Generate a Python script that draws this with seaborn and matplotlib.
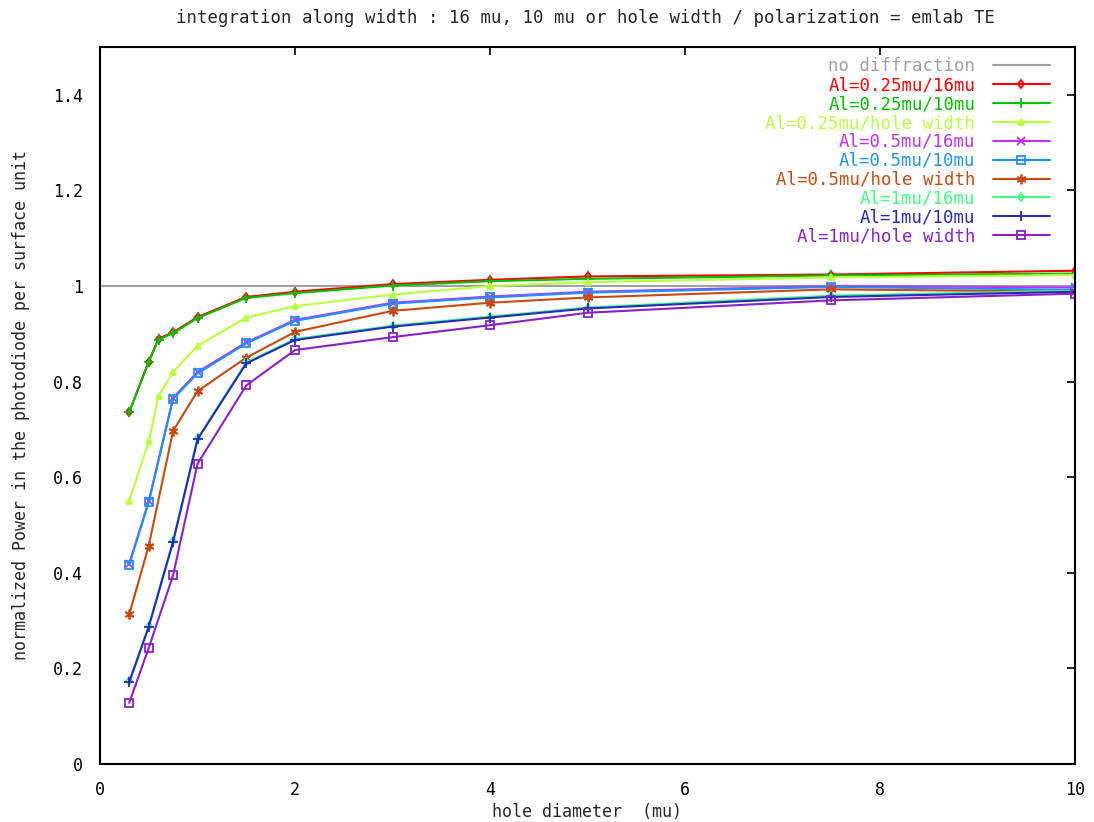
import matplotlib
matplotlib.use("Agg")
import matplotlib.pyplot as plt
import seaborn as sns
import pandas as pd

# ---------------- data ----------------
x_full = [0.3, 0.5, 0.6, 0.75, 1.0, 1.5, 2.0, 3.0, 4.0, 5.0, 7.5, 10.0]
x_std = [0.3, 0.5, 0.75, 1.0, 1.5, 2.0, 3.0, 4.0, 5.0, 7.5, 10.0]

al025_16 = [0.736, 0.842, 0.890, 0.903, 0.935, 0.977, 0.988, 1.004, 1.013, 1.020, 1.024, 1.032]
al025_10 = [0.736, 0.842, 0.888, 0.901, 0.933, 0.975, 0.985, 1.001, 1.010, 1.015, 1.022, 1.026]
al025_hole = [0.550, 0.675, 0.770, 0.820, 0.875, 0.934, 0.958, 0.982, 1.000, 1.008, 1.018, 1.023]
al05_16 = [0.419, 0.550, 0.766, 0.820, 0.882, 0.929, 0.965, 0.978, 0.988, 1.000, 0.997]
al05_10 = [0.417, 0.548, 0.764, 0.817, 0.880, 0.927, 0.963, 0.976, 0.986, 0.998, 0.992]
al05_hole = [0.313, 0.457, 0.697, 0.780, 0.850, 0.904, 0.948, 0.965, 0.976, 0.993, 0.988]
al1_16 = [0.173, 0.289, 0.467, 0.681, 0.840, 0.889, 0.917, 0.936, 0.955, 0.980, 0.990]
al1_10 = [0.171, 0.287, 0.465, 0.679, 0.838, 0.887, 0.915, 0.934, 0.953, 0.977, 0.988]
al1_hole = [0.128, 0.243, 0.395, 0.628, 0.792, 0.866, 0.893, 0.918, 0.944, 0.970, 0.984]

labels = ["Al=0.25mu/16mu", "Al=0.25mu/10mu", "Al=0.25mu/hole width",
          "Al=0.5mu/16mu", "Al=0.5mu/10mu", "Al=0.5mu/hole width",
          "Al=1mu/16mu", "Al=1mu/10mu", "Al=1mu/hole width"]
xs = [x_full, x_full, x_full, x_std, x_std, x_std, x_std, x_std, x_std]
ys = [al025_16, al025_10, al025_hole, al05_16, al05_10, al05_hole, al1_16, al1_10, al1_hole]

colors = ["#ff0000", "#00c000", "#b8ff40", "#c030ff", "#2090ff",
          "#c84a10", "#40ff80", "#2828c0", "#8a20c8"]
markers = ["d", "+", "^", "x", "s", (6, 2, 0), "d", "+", "s"]
msizes = [4.5, 7, 5, 6, 5.5, 7, 4.5, 7, 6]
open_marker = [True, False, False, False, True, False, True, False, True]

title = "integration along width : 16 mu, 10 mu or hole width / polarization = emlab TE"
xlabel = "hole diameter  (mu)"
ylabel = "normalized Power in the photodiode per surface unit"

# ---------------- style ----------------
sns.set_style("white")
plt.rcParams["font.family"] = ["DejaVu Sans Mono"]

fig = plt.figure(figsize=(10.94, 8.22), dpi=100)
ax = fig.add_axes([100 / 1094, 1 - 764 / 822, 975 / 1094, 717 / 822])

ax.axhline(1.0, color="#a0a0a0", lw=1.5, label="no diffraction", zorder=1)

for x, y, lab, c, m, ms, op in zip(xs, ys, labels, colors, markers, msizes, open_marker):
    df = pd.DataFrame({"x": x, "y": y})
    sns.lineplot(data=df, x="x", y="y", ax=ax, color=c, lw=1.5, marker=m,
                 markersize=ms, markeredgewidth=1.3, markeredgecolor=c,
                 markerfacecolor=("none" if op else c), label=lab,
                 sort=False, zorder=2)

ax.set_xlim(0, 10)
ax.set_ylim(0, 1.5)
ax.set_xticks([0, 2, 4, 6, 8, 10])
ax.set_xticklabels(["0", "2", "4", "6", "8", "10"])
ax.set_yticks([0, 0.2, 0.4, 0.6, 0.8, 1.0, 1.2, 1.4])
ax.set_yticklabels(["0", "0.2", "0.4", "0.6", "0.8", "1", "1.2", "1.4"])
ax.tick_params(direction="in", length=6, width=1.2, top=True, right=True,
               labelsize=12, colors="black", pad=12)
for s in ax.spines.values():
    s.set_color("black")
    s.set_linewidth(1.5)

ax.set_xlabel(xlabel, fontsize=12, labelpad=3)
ax.set_ylabel(ylabel, fontsize=12, labelpad=17)
fig.text(585 / 1094, 1 - 18 / 822, title, ha="center", va="center", fontsize=12.5)

leg = ax.legend(loc="upper right", frameon=False, markerfirst=False,
                fontsize=12.5, handlelength=3.3, labelspacing=0.05,
                borderaxespad=0.3, borderpad=0.3, handletextpad=1.0,
                bbox_to_anchor=(0.985, 1.0))
for t, h in zip(leg.get_texts(), leg.legend_handles):
    t.set_color(h.get_color())

fig.savefig("out.png", dpi=100)
